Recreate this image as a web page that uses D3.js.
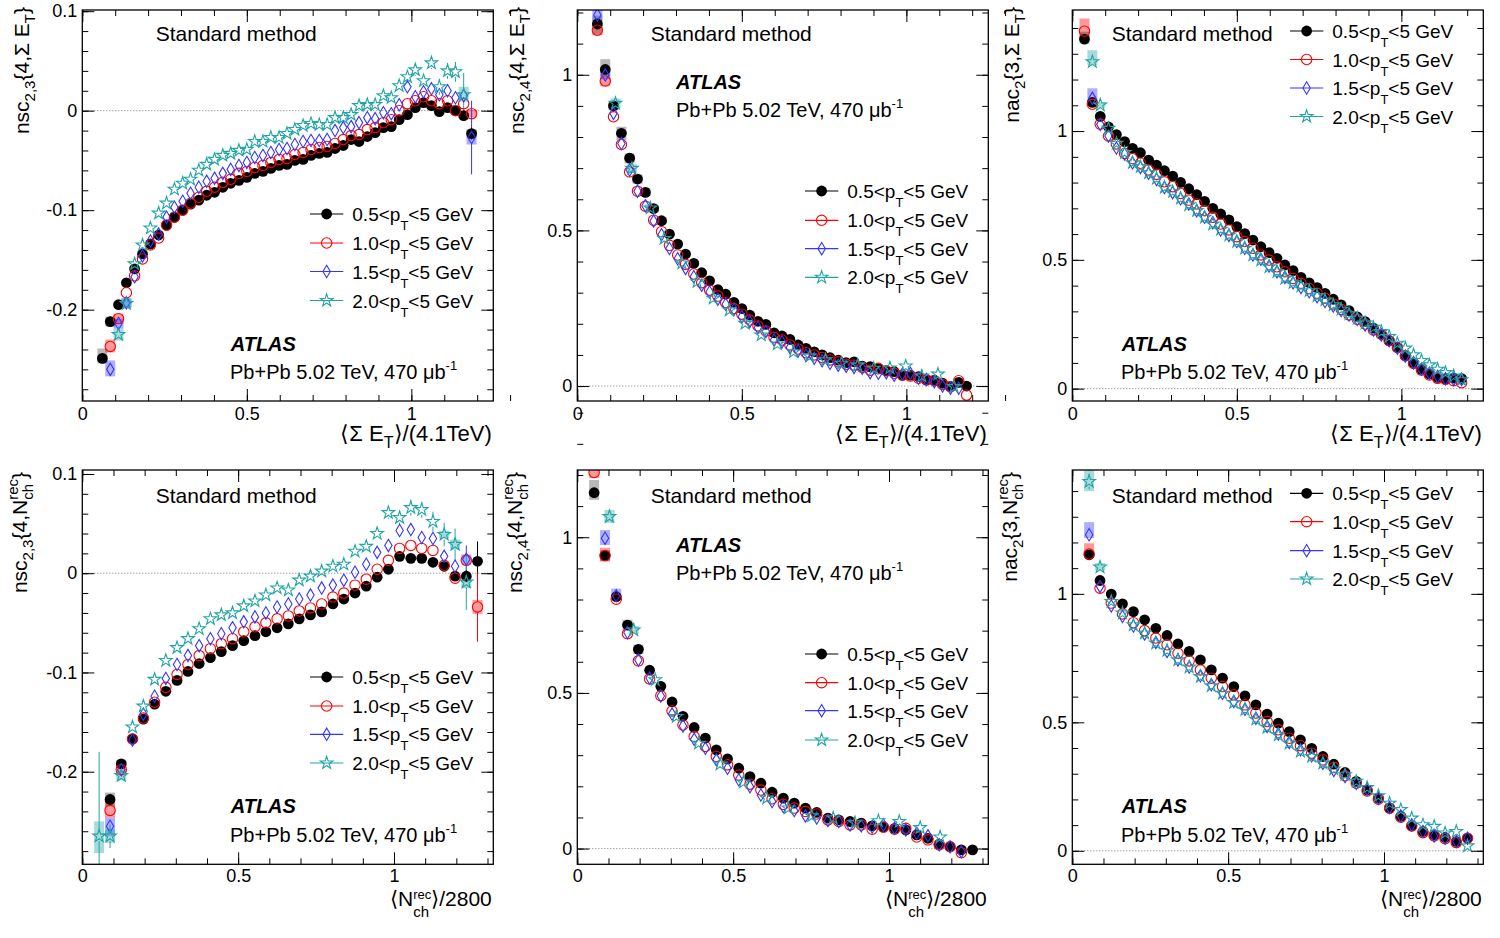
<!DOCTYPE html>
<html><head><meta charset="utf-8">
<script src="https://cdn.jsdelivr.net/npm/d3@7"></script>
<style>
body{margin:0;background:#fff;}
svg text{font-family:"Liberation Sans",Arial,Helvetica,sans-serif;white-space:pre;}
</style></head><body>
<svg id="c" width="1500" height="938"></svg>
<script>
// ---------------- data ----------------
const ptLow = ["0.5","1.0","1.5","2.0"];
const colors = ["#000000","#ff0000","#3535ff","#22a4a4"];

// <Sum ET>/(4.1 TeV) bin centres (top row) and <Nch^rec>/2800 bin centres (bottom row)
const xTop = [0.037,0.061,0.085,0.110,0.134,0.159,0.183,0.207,0.232,0.256,0.280,0.305,0.329,0.354,0.378,0.402,0.427,0.451,0.476,0.500,0.524,0.549,0.573,0.598,0.622,0.646,0.671,0.695,0.720,0.744,0.768,0.793,0.817,0.841,0.866,0.890,0.915,0.939,0.963,0.988,1.012,1.037,1.061,1.085,1.110,1.134,1.159,1.183];
const xBot = [0.054,0.089,0.125,0.161,0.196,0.232,0.268,0.304,0.339,0.375,0.411,0.446,0.482,0.518,0.554,0.589,0.625,0.661,0.696,0.732,0.768,0.804,0.839,0.875,0.911,0.946,0.982,1.018,1.054,1.089,1.125,1.161,1.196,1.232,1.268];
const xTeal2 = [0.116,0.166,0.222,0.264,0.318,0.364,0.413,0.462,0.510,0.559,0.608,0.657,0.706,0.754,0.803,0.852,0.901,0.950,0.998,1.047,1.096,1.145];
const xTeal5 = [0.103,0.181,0.250,0.318,0.389,0.458,0.533,0.608,0.677,0.752,0.821,0.891,0.966,1.033,1.100,1.164];

// panel 1: nsc2,3{4,Sum ET}
const p1Black = [null,-0.249,-0.212,-0.195,-0.173,-0.159,-0.144,-0.134,-0.125,-0.115,-0.107,-0.100,-0.094,-0.090,-0.085,-0.082,-0.077,-0.073,-0.070,-0.067,-0.063,-0.061,-0.058,-0.055,-0.054,-0.050,-0.049,-0.045,-0.043,-0.042,-0.038,-0.035,-0.029,-0.031,-0.026,-0.022,-0.017,-0.016,-0.009,-0.004,0.003,0.008,0.005,-0.001,0.003,0.000,-0.005,-0.023];
const p1Red = [null,null,-0.237,-0.209,-0.183,-0.166,-0.149,-0.135,-0.128,-0.115,-0.107,-0.100,-0.093,-0.087,-0.081,-0.077,-0.072,-0.069,-0.063,-0.061,-0.057,-0.055,-0.052,-0.049,-0.048,-0.044,-0.042,-0.039,-0.037,-0.036,-0.033,-0.029,-0.025,-0.024,-0.019,-0.017,-0.012,-0.009,0.000,0.007,0.010,0.014,0.010,0.007,0.010,0.000,0.007,-0.003];
const p1Blue = [null,null,-0.260,-0.214,-0.193,-0.167,-0.146,-0.131,-0.124,-0.107,-0.097,-0.091,-0.083,-0.077,-0.071,-0.068,-0.063,-0.059,-0.055,-0.052,-0.047,-0.045,-0.042,-0.039,-0.038,-0.034,-0.031,-0.030,-0.030,-0.029,-0.020,-0.017,-0.016,-0.012,-0.007,-0.008,-0.002,-0.003,0.006,0.024,0.014,0.019,0.022,0.016,0.020,0.013,0.015,-0.027];
const p1Teal = [null,null,null,-0.225,-0.194,-0.154,-0.135,-0.118,-0.103,-0.093,-0.079,-0.073,-0.069,-0.060,-0.054,-0.049,-0.045,-0.043,-0.040,-0.039,-0.031,-0.031,-0.027,-0.027,-0.023,-0.019,-0.015,-0.013,-0.014,-0.014,-0.007,-0.007,-0.004,0.005,0.006,0.006,0.015,0.013,0.025,0.034,0.041,0.030,0.048,0.024,0.040,0.039,0.016,null];

// panel 2: nsc2,4{4,Sum ET}
const p2Black = [null,1.163,1.017,0.900,0.812,0.732,0.665,0.622,0.570,0.531,0.488,0.456,0.424,0.394,0.364,0.338,0.310,0.295,0.269,0.249,0.228,0.208,0.198,0.171,0.161,0.150,0.132,0.121,0.110,0.100,0.091,0.083,0.075,0.078,0.064,0.062,0.055,0.049,0.046,0.035,0.035,0.030,0.019,0.019,0.009,-0.002,0.012,0.000];
const p2Red = [null,1.143,0.980,0.865,0.776,0.688,0.626,0.578,0.533,0.496,0.452,0.421,0.391,0.360,0.332,0.308,0.289,0.268,0.249,0.231,0.212,0.193,0.177,0.156,0.148,0.132,0.119,0.107,0.100,0.092,0.084,0.078,0.070,0.067,0.060,0.051,0.057,0.049,0.041,0.035,0.032,0.025,0.021,0.017,0.005,-0.002,0.017,-0.029];
const p2Blue = [null,1.192,0.999,0.876,0.779,0.694,0.626,0.579,0.530,0.486,0.442,0.409,0.378,0.351,0.324,0.302,0.279,0.263,0.246,0.223,0.207,0.188,0.175,0.148,0.142,0.124,0.113,0.099,0.089,0.081,0.073,0.067,0.064,0.060,0.057,0.043,0.041,0.043,0.035,0.039,0.041,0.025,0.021,0.014,0.000,-0.007,-0.007,null];
const p2Teal = [0.908,0.699,0.572,0.474,0.395,0.335,0.282,0.244,0.201,0.164,0.135,0.110,0.096,0.084,0.073,0.067,0.057,0.058,0.064,0.032,0.038,-0.002];

// panel 3: nac2{3,Sum ET}
const p3Black = [1.357,1.111,1.057,1.016,0.986,0.959,0.933,0.916,0.887,0.868,0.846,0.825,0.801,0.776,0.753,0.727,0.700,0.678,0.655,0.629,0.602,0.577,0.551,0.528,0.506,0.480,0.458,0.432,0.411,0.392,0.370,0.347,0.325,0.303,0.279,0.260,0.235,0.211,0.186,0.160,0.128,0.101,0.075,0.057,0.043,0.038,0.041,0.039];
const p3Red = [1.388,1.104,1.027,0.981,0.950,0.913,0.893,0.875,0.849,0.832,0.803,0.784,0.758,0.732,0.717,0.691,0.665,0.639,0.616,0.590,0.571,0.545,0.519,0.499,0.473,0.454,0.428,0.409,0.389,0.370,0.351,0.329,0.308,0.286,0.269,0.251,0.228,0.211,0.186,0.160,0.128,0.098,0.072,0.053,0.040,0.036,0.031,0.023];
const p3Blue = [null,1.127,1.026,0.981,0.934,0.911,0.877,0.859,0.836,0.812,0.781,0.761,0.737,0.717,0.691,0.665,0.644,0.616,0.595,0.571,0.545,0.519,0.502,0.476,0.454,0.432,0.411,0.393,0.376,0.357,0.338,0.321,0.303,0.286,0.269,0.247,0.228,0.208,0.186,0.157,0.127,0.101,0.075,0.060,0.047,0.038,0.036,0.036];
const p3Teal = [null,1.269,1.101,1.010,0.952,0.916,0.877,0.862,0.838,0.816,0.781,0.765,0.739,0.713,0.691,0.665,0.639,0.618,0.596,0.571,0.545,0.519,0.499,0.473,0.454,0.428,0.411,0.398,0.380,0.360,0.344,0.325,0.308,0.290,0.273,0.254,0.238,0.221,0.202,0.176,0.157,0.131,0.109,0.092,0.075,0.062,0.049,0.034];

// panel 4: nsc2,3{4,Nch}
const p4Black = [null,-0.228,-0.192,-0.167,-0.147,-0.132,-0.119,-0.108,-0.099,-0.091,-0.085,-0.079,-0.073,-0.068,-0.063,-0.059,-0.055,-0.051,-0.046,-0.042,-0.039,-0.031,-0.026,-0.020,-0.013,-0.004,0.004,0.017,0.015,0.015,0.011,0.007,-0.003,-0.003,0.012];
const p4Red = [null,-0.239,-0.198,-0.167,-0.146,-0.130,-0.115,-0.102,-0.092,-0.083,-0.076,-0.071,-0.066,-0.059,-0.054,-0.050,-0.046,-0.043,-0.038,-0.035,-0.031,-0.024,-0.020,-0.012,-0.006,0.004,0.013,0.025,0.028,0.025,0.023,0.008,-0.005,0.013,-0.034];
const p4Blue = [null,-0.255,-0.198,-0.168,-0.142,-0.124,-0.106,-0.092,-0.083,-0.073,-0.066,-0.061,-0.055,-0.049,-0.044,-0.040,-0.034,-0.031,-0.026,-0.022,-0.015,-0.012,-0.007,0.001,0.009,0.021,0.028,0.043,0.044,0.036,0.035,0.017,0.007,0.014,null];
const p4Teal = [-0.265,-0.265,-0.204,-0.155,-0.134,-0.107,-0.088,-0.075,-0.066,-0.056,-0.046,-0.042,-0.040,-0.033,-0.028,-0.022,-0.015,-0.017,-0.007,-0.003,0.002,0.007,0.009,0.022,0.027,0.040,0.061,0.056,0.066,0.064,0.052,0.039,0.029,-0.009,null];

// panel 5: nsc2,4{4,Nch}
const p5Black = [1.143,0.941,0.809,0.718,0.640,0.573,0.521,0.471,0.425,0.389,0.355,0.317,0.288,0.258,0.231,0.210,0.181,0.162,0.146,0.130,0.116,0.098,0.092,0.087,0.082,0.073,0.069,0.065,0.060,0.044,0.033,0.014,0.006,-0.004,-0.004];
const p5Red = [1.208,0.941,0.801,0.690,0.603,0.545,0.491,0.442,0.397,0.360,0.328,0.296,0.269,0.236,0.207,0.188,0.160,0.142,0.130,0.119,0.111,0.092,0.087,0.076,0.076,0.062,0.069,0.062,0.065,0.037,0.028,0.012,0.006,-0.013,null];
const p5Blue = [null,0.997,0.812,0.694,0.606,0.548,0.490,0.432,0.394,0.351,0.322,0.285,0.258,0.221,0.199,0.172,0.151,0.135,0.122,0.105,0.098,0.090,0.087,0.076,0.073,0.069,0.076,0.065,0.060,0.049,0.041,0.012,0.006,-0.010,null];
const p5Teal = [1.066,0.702,0.542,0.424,0.338,0.271,0.213,0.162,0.130,0.105,0.098,0.083,0.089,0.087,0.067,0.037];

// panel 6: nac2{3,Nch}
const p6Black = [1.152,1.052,0.999,0.961,0.931,0.899,0.866,0.838,0.805,0.776,0.743,0.704,0.672,0.639,0.603,0.568,0.532,0.497,0.464,0.432,0.399,0.367,0.337,0.305,0.270,0.237,0.205,0.166,0.134,0.097,0.075,0.062,0.052,0.036,0.049];
const p6Red = [1.155,1.022,0.964,0.922,0.888,0.857,0.828,0.802,0.769,0.739,0.704,0.672,0.639,0.607,0.568,0.536,0.503,0.471,0.438,0.409,0.380,0.354,0.324,0.292,0.263,0.233,0.201,0.166,0.131,0.097,0.071,0.058,0.047,0.032,0.049];
const p6Blue = [1.230,1.029,0.953,0.912,0.875,0.844,0.811,0.776,0.743,0.715,0.681,0.646,0.613,0.581,0.551,0.516,0.484,0.455,0.422,0.393,0.370,0.341,0.313,0.289,0.263,0.240,0.205,0.169,0.136,0.101,0.075,0.058,0.049,0.036,0.049];
const p6Teal = [1.437,1.104,0.970,0.925,0.879,0.847,0.808,0.780,0.743,0.715,0.678,0.642,0.613,0.577,0.549,0.512,0.480,0.451,0.419,0.387,0.367,0.341,0.318,0.296,0.270,0.246,0.214,0.185,0.160,0.127,0.101,0.095,0.069,0.075,0.019];

// systematic boxes [series, point index, low, high]
const sysP1 = [[0,1,-0.254,-0.239],[0,2,-0.217,-0.207],[1,2,-0.243,-0.230],[1,3,-0.214,-0.204],[2,2,-0.267,-0.251],[2,3,-0.219,-0.209],[2,4,-0.198,-0.188],[3,3,-0.231,-0.219],[3,4,-0.199,-0.189],[3,46,0.009,0.024],[2,47,-0.034,-0.019],[1,47,-0.007,0.001],[0,47,-0.027,-0.019]];
const sysP2 = [[0,1,1.13,1.19],[1,1,1.127,1.16],[2,1,1.17,1.23],[0,2,0.988,1.05],[1,2,0.963,0.99],[2,2,0.985,1.01],[0,3,0.886,0.913],[0,4,0.79,0.833],[0,5,0.715,0.747],[0,6,0.65,0.68],[0,7,0.61,0.635],[0,8,0.558,0.582],[0,9,0.52,0.542],[3,0,0.892,0.924],[3,1,0.685,0.712],[3,2,0.56,0.584]];
const sysP3 = [[1,0,1.366,1.437],[0,0,1.34,1.386],[3,1,1.256,1.314],[2,1,1.12,1.166],[3,2,1.09,1.112],[0,1,1.1,1.122]];
const sysP4 = [[3,0,-0.282,-0.25],[0,1,-0.235,-0.221],[1,1,-0.246,-0.232],[2,1,-0.265,-0.246],[3,1,-0.272,-0.258],[0,2,-0.196,-0.188],[1,2,-0.203,-0.193],[3,2,-0.209,-0.199],[1,34,-0.041,-0.027],[3,33,-0.015,-0.004],[3,32,0.024,0.034],[3,31,0.035,0.043],[2,33,0.009,0.019]];
const sysP5 = [[0,0,1.12,1.184],[1,0,1.19,1.216],[3,0,1.046,1.088],[2,1,0.975,1.023],[1,1,0.922,0.966],[0,1,0.925,0.958],[2,2,0.8,0.835],[0,3,0.70,0.735],[3,1,0.69,0.715],[0,4,0.625,0.655]];
const sysP6 = [[3,0,1.40,1.49],[2,0,1.217,1.279],[1,0,1.145,1.197],[0,0,1.14,1.165],[3,1,1.09,1.12]];
// statistical errors [series, point index, half-size]
const errP1 = [[2,47,0.037],[3,46,0.022],[3,45,0.010],[3,44,0.008],[3,43,0.008],[3,42,0.006],[3,41,0.006],[3,40,0.006],[3,39,0.006],[0,47,0.006],[1,47,0.005]];
const errP2 = [[0,47,0.015],[1,47,0.008],[0,1,0.012]];
const errP3 = [[3,47,0.02],[0,47,0.01],[1,0,0.01]];
const errP4 = [[3,0,0.085],[3,1,0.012],[0,34,0.02],[1,34,0.035],[2,33,0.014],[3,33,0.028],[3,32,0.016],[3,31,0.012],[3,30,0.01],[3,29,0.008],[3,28,0.008],[3,27,0.007],[3,26,0.006],[0,33,0.006],[2,32,0.006]];
const errP5 = [[0,34,0.016],[0,0,0.012]];
const errP6 = [[3,34,0.022],[3,0,0.03]];

// ticks
const xTickVals = [0,0.5,1];
const xTickLabels = ["0","0.5","1"];
const yTickValsA = [-0.2,-0.1,0,0.1];
const yTickLabelsA = ["-0.2","-0.1","0","0.1"];
const yTickValsB = [0,0.5,1];
const yTickLabelsB = ["0","0.5","1"];
const xMinor = d3.range(0,1.31,0.1);
const yMinorA = d3.range(-0.28,0.105,0.02);
const yMinorB = d3.range(0,1.49,0.1);

// ---------------- drawing ----------------
const svg = d3.select("#c");
const FONT = '"Liberation Sans",Arial,Helvetica,sans-serif';

function rich(parent, x, y, segs, opt) {
  opt = opt || {};
  const fs = opt.fs || 20, sfs = opt.sfs || Math.round(fs*0.7), pfs = opt.supFs || sfs;
  const outer = parent.append("g").attr("transform", `translate(${x},${y})` + (opt.rotate ? ` rotate(${opt.rotate})` : ""));
  const inner = outer.append("g");
  let cursor = 0, lastStart = 0, lastEnd = 0;
  segs.forEach(sg => {
    const [t, kind] = sg;
    const stack = kind === "supstack";
    const isSup = kind === "sup" || stack;
    const size = kind === "sub" ? sfs : isSup ? pfs : fs;
    const dy = kind === "sub" ? (opt.subDy || fs*0.3) : isSup ? -(opt.supDy || fs*0.45) : 0;
    const start = stack ? lastStart : cursor;
    const te = inner.append("text").attr("x", start).attr("y", dy)
      .attr("font-size", size)
      .attr("font-weight", opt.bold ? "bold" : null)
      .attr("font-style", opt.italic ? "italic" : null)
      .attr("fill", "#000").text(t);
    const w = te.node().getComputedTextLength();
    const end = start + w;
    if (stack) { cursor = Math.max(lastEnd, end); lastEnd = cursor; }
    else { lastStart = start; lastEnd = end; cursor = end; }
  });
  let shift = 0;
  if (opt.anchor === "end") shift = -cursor; else if (opt.anchor === "middle") shift = -cursor/2;
  inner.attr("transform", `translate(${shift},0)`);
}

const markerPaths = [
  d3.symbol(d3.symbolCircle, Math.PI*29)(),
  d3.symbol(d3.symbolCircle, Math.PI*27)(),
  "M0,-6.2L3.7,0L0,6.2L-3.7,0Z",
  d3.symbol(d3.symbolStar, 50)()
];
function styleMarker(sel, s) {
  if (s === 0) sel.attr("fill", colors[0]).attr("stroke", "none");
  else sel.attr("fill", "none").attr("stroke", colors[s]).attr("stroke-width", 1.1);
}

const ylabSumA = [["nsc"],["2,3","sub"],["{4,Σ E"],["T","sub"],["}"]];
const ylabSumB = [["nsc"],["2,4","sub"],["{4,Σ E"],["T","sub"],["}"]];
const ylabSumC = [["nac"],["2","sub"],["{3,Σ E"],["T","sub"],["}"]];
const ylabNA = [["nsc"],["2,3","sub"],["{4,N"],["ch","sub"],["rec","supstack"],["}"]];
const ylabNB = [["nsc"],["2,4","sub"],["{4,N"],["ch","sub"],["rec","supstack"],["}"]];
const ylabNC = [["nac"],["2","sub"],["{3,N"],["ch","sub"],["rec","supstack"],["}"]];
const xlabSum = [["\u27E8Σ E"],["T","sub"],["\u27E9/(4.1TeV)"]];
const xlabN = [["\u27E8N"],["ch","sub"],["rec","supstack"],["\u27E9/2800"]];

const rowTop = {T:10, H:391}, rowBot = {T:470, H:394.3};
const panels = [
  {L:82.3, ...rowTop, xDom:[0,1.249], yDom:[-0.2918,0.1012], yT:yTickValsA, yL:yTickLabelsA, yM:yMinorA,
   xs:[xTop,xTop,xTop,xTop], data:[p1Black,p1Red,p1Blue,p1Teal], sys:sysP1, err:errP1,
   ylab:ylabSumA, xlab:xlabSum, legX:227.7, legY:[214,243,271.5,300.5],
   std:[155.7,40.5], atlas:[230.7,350.7], lumi:[230,379.3]},
  {L:577.3, ...rowTop, xDom:[0,1.249], yDom:[-0.048,1.208], yT:yTickValsB, yL:yTickLabelsB, yM:yMinorB,
   xs:[xTop,xTop,xTop,xTeal2], data:[p2Black,p2Red,p2Blue,p2Teal], sys:sysP2, err:errP2,
   ylab:ylabSumB, xlab:xlabSum, legX:227.7, legY:[191,220.3,248.7,277.3],
   std:[650.7,40.5], atlas:[676,89.3], lumi:[676,117.3]},
  {L:1072.3, ...rowTop, xDom:[0,1.249], yDom:[-0.048,1.47], yT:yTickValsB, yL:yTickLabelsB, yM:yMinorB,
   xs:[xTop,xTop,xTop,xTop], data:[p3Black,p3Red,p3Blue,p3Teal], sys:sysP3, err:errP3,
   ylab:ylabSumC, xlab:xlabSum, legX:217.7, legY:[31,59.5,88,116.5],
   std:[1111.7,40.5], atlas:[1121.7,350.7], lumi:[1121,379.3]},
  {L:82.3, ...rowBot, xDom:[0,1.3186], yDom:[-0.2933,0.104], yT:yTickValsA, yL:yTickLabelsA, yM:yMinorA,
   xs:[xBot,xBot,xBot,xBot], data:[p4Black,p4Red,p4Blue,p4Teal], sys:sysP4, err:errP4,
   ylab:ylabNA, xlab:xlabN, legX:227.7, legY:[677,706,734.3,763],
   std:[155.7,503.3], atlas:[230.7,813.3], lumi:[230,841.7]},
  {L:577.3, ...rowBot, xDom:[0,1.3186], yDom:[-0.0505,1.216], yT:yTickValsB, yL:yTickLabelsB, yM:yMinorB,
   xs:[xBot,xBot,xBot,xTeal5], data:[p5Black,p5Red,p5Blue,p5Teal], sys:sysP5, err:errP5,
   ylab:ylabNB, xlab:xlabN, legX:227.7, legY:[654,682.7,710.7,740],
   std:[650.7,503.3], atlas:[676,551.7], lumi:[676,580]},
  {L:1072.3, ...rowBot, xDom:[0,1.3186], yDom:[-0.0525,1.482], yT:yTickValsB, yL:yTickLabelsB, yM:yMinorB,
   xs:[xBot,xBot,xBot,xBot], data:[p6Black,p6Red,p6Blue,p6Teal], sys:sysP6, err:errP6,
   ylab:ylabNC, xlab:xlabN, legX:217.7, legY:[493.3,521.7,550.7,579],
   std:[1111.7,503.3], atlas:[1121.7,813.3], lumi:[1121,841.7]}
];

const defs = svg.append("defs");
panels.forEach((p, pi) => {
  const W = 411;
  const isBot = pi >= 3;
  const g = svg.append("g");
  const xs = d3.scaleLinear().domain(p.xDom).range([p.L, p.L + W]);
  const ys = d3.scaleLinear().domain(p.yDom).range([p.T + p.H, p.T]);
  defs.append("clipPath").attr("id", "clip" + pi).append("rect")
    .attr("x", p.L).attr("y", p.T).attr("width", W).attr("height", p.H);

  g.append("line").attr("x1", p.L).attr("x2", p.L + W).attr("y1", ys(0)).attr("y2", ys(0))
    .attr("stroke", "#777").attr("stroke-width", 1).attr("stroke-dasharray", "1,2");

  const plot = g.append("g").attr("clip-path", `url(#clip${pi})`);
  plot.selectAll("rect.sys").data(p.sys).join("rect").attr("class", "sys")
    .attr("x", d => xs(p.xs[d[0]][d[1]]) - 5).attr("width", 10)
    .attr("y", d => ys(d[3])).attr("height", d => ys(d[2]) - ys(d[3]))
    .attr("fill", d => colors[d[0]]).attr("fill-opacity", d => d[0] === 0 ? 0.28 : 0.4);
  p.err.forEach(([s, i, e]) => {
    const cx = xs(p.xs[s][i]), v = p.data[s][i];
    const y1 = ys(v + e), y2 = ys(v - e), yc = ys(v), r = 5;
    if (yc - y1 > r) plot.append("line").attr("x1", cx).attr("x2", cx).attr("y1", y1).attr("y2", yc - r).attr("stroke", colors[s]).attr("stroke-width", 1);
    if (y2 - yc > r) plot.append("line").attr("x1", cx).attr("x2", cx).attr("y1", yc + r).attr("y2", y2).attr("stroke", colors[s]).attr("stroke-width", 1);
  });
  p.data.forEach((arr, s) => {
    const pts = arr.map((v, i) => ({x: p.xs[s][i], y: v})).filter(d => d.y !== null);
    plot.append("g").selectAll("path").data(pts).join("path")
      .attr("transform", d => `translate(${xs(d.x)},${ys(d.y)})`)
      .attr("d", markerPaths[s]).call(sel => styleMarker(sel, s));
  });

  const fixAxis = a => { a.select(".domain").remove(); a.selectAll("line").attr("stroke", "#000"); a.attr("font-size", 18).attr("font-family", FONT); };
  g.append("g").attr("transform", `translate(${p.L},0)`)
    .call(d3.axisLeft(ys).tickValues(p.yT).tickFormat((d, i) => p.yL[i]).tickSize(-12).tickPadding(5)).call(fixAxis);
  g.append("g").attr("transform", `translate(${p.L},0)`)
    .call(d3.axisLeft(ys).tickValues(p.yM).tickFormat("").tickSize(-6)).call(fixAxis);
  g.append("g").attr("transform", `translate(${p.L + W},0)`)
    .call(d3.axisRight(ys).tickValues(p.yT).tickFormat("").tickSize(-12)).call(fixAxis);
  g.append("g").attr("transform", `translate(${p.L + W},0)`)
    .call(d3.axisRight(ys).tickValues(p.yM).tickFormat("").tickSize(-6)).call(fixAxis);
  g.append("g").attr("transform", `translate(0,${p.T + p.H})`)
    .call(d3.axisBottom(xs).tickValues(xTickVals).tickFormat((d, i) => xTickLabels[i]).tickSize(-12).tickPadding(isBot ? 5 : 6)).call(fixAxis);
  g.append("g").attr("transform", `translate(0,${p.T + p.H})`)
    .call(d3.axisBottom(xs).tickValues(xMinor).tickFormat("").tickSize(-6)).call(fixAxis);
  g.append("g").attr("transform", `translate(0,${p.T})`)
    .call(d3.axisTop(xs).tickValues(xTickVals).tickFormat("").tickSize(-12)).call(fixAxis);
  g.append("g").attr("transform", `translate(0,${p.T})`)
    .call(d3.axisTop(xs).tickValues(xMinor).tickFormat("").tickSize(-6)).call(fixAxis);

  g.append("rect").attr("x", p.L).attr("y", p.T).attr("width", W).attr("height", p.H)
    .attr("fill", "none").attr("stroke", "#000").attr("stroke-width", 1.3);

  rich(g, p.L - (isBot ? 55.6 : 53), isBot ? p.T + 2 : p.T - 3, p.ylab, {fs: 21, sfs: 15, rotate: -90, anchor: "end", subDy: 6, supDy: 9});
  if (isBot) rich(g, p.L + W - 1.5, p.T + p.H + 41.5, p.xlab, {fs: 21, sfs: 15, supFs: 13, anchor: "end", subDy: 11, supDy: 7});
  else rich(g, p.L + W - 1.5, p.T + p.H + 40, p.xlab, {fs: 22, sfs: 16, anchor: "end", subDy: 7, supDy: 9});

  g.append("text").attr("x", p.std[0]).attr("y", p.std[1]).attr("font-size", 21).text("Standard method");
  rich(g, p.atlas[0], p.atlas[1], [["ATLAS"]], {fs: 20, bold: true, italic: true});
  rich(g, p.lumi[0], p.lumi[1], [["Pb+Pb 5.02 TeV, 470 μb"], ["-1", "sup"]], {fs: 20, sfs: 13, supDy: 9});

  ptLow.forEach((lo, s) => {
    const ly = p.legY[s], x0 = p.L + p.legX, x1 = x0 + 33.3, xm = (x0 + x1) / 2;
    g.append("line").attr("x1", x0).attr("x2", x1).attr("y1", ly).attr("y2", ly)
      .attr("stroke", colors[s]).attr("stroke-width", 1.2);
    g.append("path").attr("transform", `translate(${xm},${ly})`).attr("d", markerPaths[s])
      .call(sel => styleMarker(sel, s));
    rich(g, x1 + 9, ly + 7, [[lo + "<p"], ["T", "sub"], ["<5 GeV"]], {fs: 19, sfs: 13, subDy: 9});
  });
});
</script>
</body></html>
